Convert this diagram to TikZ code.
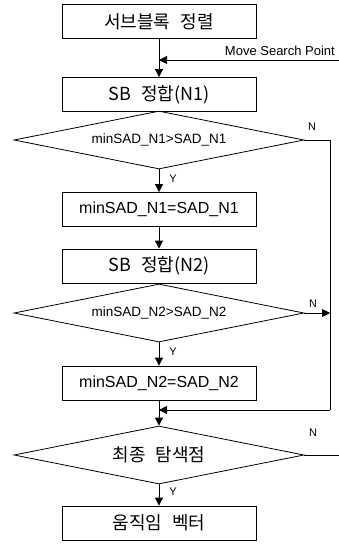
\documentclass[tikz,border=0pt]{standalone}
\usepackage{fontspec}
\setmainfont{Liberation Sans}
\newfontfamily\kr[WordSpace=2.5]{Noto Sans CJK KR}
\usetikzlibrary{arrows.meta,shapes.geometric}

\begin{document}
\begin{tikzpicture}[x=1pt,y=-1pt]
	\tikzset{block/.style = {shape=rectangle, draw, line width=0.8pt, minimum width=194pt, minimum height=34pt, inner sep=0pt, font=\fontsize{16}{19}\selectfont}}
	\tikzset{krblock/.style = {block, font=\kr\fontsize{18}{21}\selectfont}}
	\tikzset{decision/.style = {shape=diamond, draw, line width=0.8pt, minimum width=290pt, minimum height=58pt, inner sep=0pt, aspect=5, font=\fontsize{13.5}{16}\selectfont}}
	\tikzset{edge/.style = {-{Triangle[length=8pt,width=8pt]}, line width=0.8pt}}
	\tikzset{tag/.style = {inner sep=0pt, font=\fontsize{11}{13}\selectfont}}
	\useasboundingbox (0,0) rectangle (339,544);
	\node[krblock] (sort) at (159, 21.5) {서브블록 정렬};
	\node[krblock] (match1) at (159, 94.5) {SB 정합(N1)};
	\node[decision] (cmp1) at (159, 140) {minSAD\_N1>SAD\_N1};
	\node[block] (upd1) at (159, 209.5) {minSAD\_N1=SAD\_N1};
	\node[krblock] (match2) at (159, 266) {SB 정합(N2)};
	\node[decision] (cmp2) at (159, 313) {minSAD\_N2>SAD\_N2};
	\node[block] (upd2) at (159, 383) {minSAD\_N2=SAD\_N2};
	\node[decision, font=\kr\fontsize{18}{21}\selectfont] (final) at (159, 455) {최종 탐색점};
	\node[krblock] (mv) at (159, 523) {움직임 벡터};
	\coordinate (msp) at (339, 60);
	\coordinate (bend1) at (330, 140);
	\coordinate (merge) at (330, 410);
	\coordinate (exit) at (339, 455);
	\node[tag, anchor=south east, font=\fontsize{13}{15}\selectfont] (msplabel) at (335, 56) {Move Search Point};
	\node[tag] (n1) at (312, 127) {N};
	\node[tag] (n2) at (313, 304) {N};
	\node[tag] (n3) at (313, 433) {N};
	\node[tag] (y1) at (173, 179) {Y};
	\node[tag] (y2) at (173, 352) {Y};
	\node[tag] (y3) at (173, 492) {Y};
	\draw[edge] (sort) -- (match1);
	\draw[edge] (msp) -- (sort.south |- msp);
	\draw[edge] (cmp1) -- (upd1);
	\draw[edge] (upd1) -- (match2);
	\draw (cmp1.east) -- (bend1) -- (merge);
	\draw[edge] (cmp2) -- (upd2);
	\draw[edge] (cmp2.east) -- (cmp2.east -| merge);
	\draw[edge] (merge) -- (upd2.south |- merge);
	\draw[edge] (upd2) -- (final);
	\draw (final.east) -- (exit);
	\draw[edge] (final) -- (mv);
\end{tikzpicture}
\end{document}
